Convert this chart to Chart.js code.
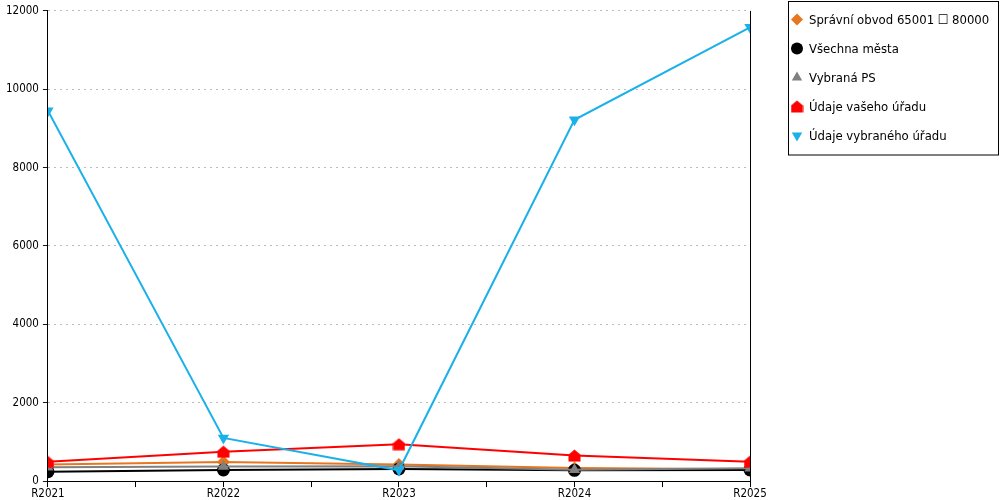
<!DOCTYPE html>
<html>
<head>
<meta charset="utf-8">
<script src="https://cdn.jsdelivr.net/npm/chart.js@4.4.1/dist/chart.umd.min.js"></script>
<style>
  html, body { margin: 0; padding: 0; background: #fff; }
  #wrap { width: 1000px; height: 500px; position: relative; }
</style>
</head>
<body>
<div id="wrap"><canvas id="chart"></canvas></div>
<script>
// Data
const years = ['R2021', 'R2022', 'R2023', 'R2024', 'R2025'];
const seriesNames = ['Správní obvod 65001 ☐ 80000', 'Všechna města', 'Vybraná PS', 'Údaje vašeho úřadu', 'Údaje vybraného úřadu'];
const obvodValues = [425, 490, 425, 335, 300];
const mestaValues = [240, 285, 310, 275, 285];
const psValues = [355, 370, 380, 290, 330];
const vasUradValues = [490, 750, 940, 650, 495];
const vybranyUradValues = [9450, 1100, 275, 9220, 11580];
const yTicks = [0, 2000, 4000, 6000, 8000, 10000, 12000];

const FONT = '"DejaVu Sans Condensed", "DejaVu Sans", sans-serif';
Chart.defaults.font.family = FONT;
Chart.defaults.font.size = 11.5;
Chart.defaults.color = '#000';

// red "house" marker (no built-in style for it)
function houseMarker(color) {
    const c = document.createElement('canvas');
    c.width = 13; c.height = 13;
    const g = c.getContext('2d');
    g.fillStyle = color;
    g.beginPath();
    g.moveTo(6.5, 0.5);
    g.lineTo(12.5, 5.5);
    g.lineTo(12.5, 12.5);
    g.lineTo(0.5, 12.5);
    g.lineTo(0.5, 5.5);
    g.closePath();
    g.fill();
    return c;
}
const house = houseMarker('#ff0000');

const toPoints = arr => arr.map((v, i) => ({ x: i, y: v }));

function line(label, values, color, style, order, rotation) {
    return {
        label: label,
        data: toPoints(values),
        borderColor: color,
        backgroundColor: color,
        pointBackgroundColor: color,
        pointBorderColor: color,
        borderWidth: 2,
        pointStyle: style,
        pointRotation: rotation || 0,
        pointRadius: 6.5,
        pointHoverRadius: 6.5,
        pointBorderWidth: 0,
        tension: 0,
        order: order
    };
}

// boxed legend on the right plus the right frame line
const frameLegend = {
    id: 'frameLegend',
    afterDraw(chart) {
        const ctx = chart.ctx;
        const area = chart.chartArea;
        ctx.save();
        ctx.strokeStyle = '#000';
        ctx.lineWidth = 1;
        ctx.beginPath();
        ctx.moveTo(Math.round(area.right) + 0.5, area.top);
        ctx.lineTo(Math.round(area.right) + 0.5, area.bottom);
        ctx.stroke();

        ctx.strokeRect(788.5, 1.5, 210, 153.5);
        ctx.font = '13px ' + FONT;
        ctx.textBaseline = 'middle';
        chart.data.datasets.forEach((ds, i) => {
            const y = 19.5 + i * 29;
            ctx.fillStyle = ds.pointBackgroundColor;
            ctx.strokeStyle = ds.pointBorderColor;
            if (ds.pointStyle instanceof HTMLCanvasElement) {
                ctx.drawImage(ds.pointStyle, 797 - 6.5, y - 6.5);
            } else {
                Chart.helpers.drawPoint(ctx, {
                    pointStyle: ds.pointStyle,
                    rotation: ds.pointRotation,
                    radius: 6,
                    borderWidth: 0
                }, 797, y);
            }
            ctx.fillStyle = '#000';
            ctx.fillText(ds.label, 809, y + 1);
        });
        ctx.restore();
    }
};

new Chart(document.getElementById('chart'), {
    type: 'line',
    data: {
        datasets: [
            line(seriesNames[0], obvodValues, '#e8761e', 'rectRot', 5),
            line(seriesNames[1], mestaValues, '#000000', 'circle', 4),
            line(seriesNames[2], psValues, '#808080', 'triangle', 3),
            line(seriesNames[3], vasUradValues, '#ff0000', house, 2),
            line(seriesNames[4], vybranyUradValues, '#1ab0ea', 'triangle', 1, 180)
        ]
    },
    options: {
        responsive: true,
        maintainAspectRatio: false,
        animation: false,
        layout: { padding: { top: 6, right: 250, left: 2, bottom: 0 } },
        plugins: {
            legend: { display: false },
            tooltip: { enabled: false }
        },
        scales: {
            x: {
                type: 'linear',
                min: 0,
                max: years.length - 1,
                afterBuildTicks: axis => {
                    const t = [];
                    for (let v = 0; v <= years.length - 1; v += 0.5) t.push({ value: v });
                    axis.ticks = t;
                },
                ticks: {
                    autoSkip: false,
                    maxRotation: 0,
                    padding: 1,
                    font: { lineHeight: 0.95 },
                    callback: v => Number.isInteger(v) ? years[v] : ''
                },
                grid: { drawOnChartArea: false, tickLength: 6, color: '#000' },
                border: { color: '#000', width: 1 }
            },
            y: {
                min: 0,
                max: 12000,
                afterBuildTicks: axis => { axis.ticks = yTicks.map(v => ({ value: v })); },
                ticks: { padding: 4, callback: v => String(v) },
                grid: {
                    color: '#bbbbbb',
                    tickColor: '#000',
                    tickBorderDash: [1, 0],
                    tickLength: 5
                },
                border: { color: '#000', width: 1, dash: [2, 4] }
            }
        }
    },
    plugins: [frameLegend]
});
</script>
</body>
</html>
